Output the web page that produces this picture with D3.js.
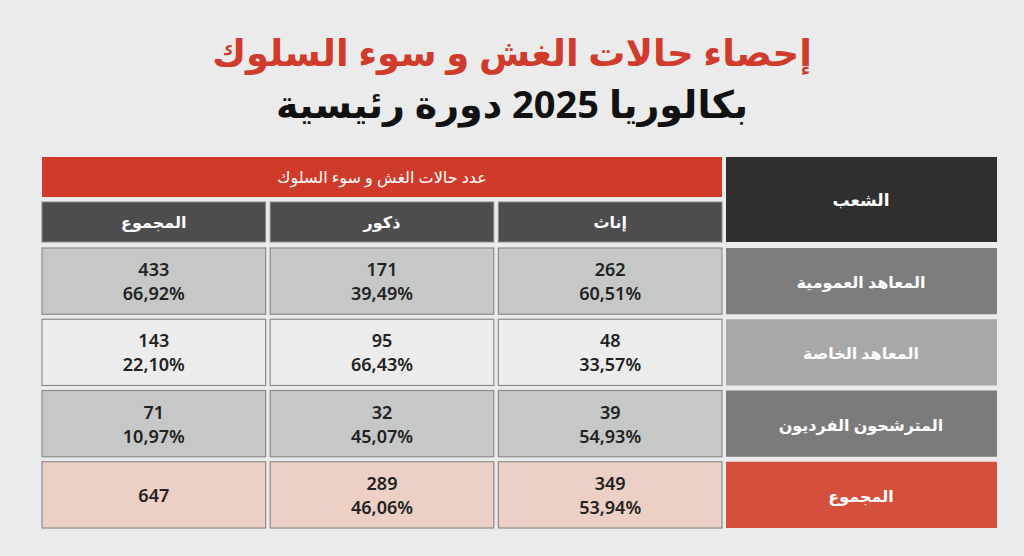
<!DOCTYPE html>
<html><head><meta charset="utf-8">
<script src="https://cdn.jsdelivr.net/npm/d3@7"></script>
<style>body{margin:0;background:#ebebeb;font-family:"Noto Sans","DejaVu Sans",sans-serif}</style>
</head><body>
<svg id="c" width="1024" height="556"></svg>
<script>
// data
var branches = ['المعاهد العمومية', 'المعاهد الخاصة', 'المترشحون الفرديون', 'المجموع'];
var columns = ['إناث', 'ذكور', 'المجموع'];
var females = [262, 48, 39, 349];
var femalesPct = ['60,51%', '33,57%', '54,93%', '53,94%'];
var males = [171, 95, 32, 289];
var malesPct = ['39,49%', '66,43%', '45,07%', '46,06%'];
var totals = [433, 143, 71, 647];
var totalsPct = ['66,92%', '22,10%', '10,97%', ''];

var svg = d3.select('#c');

svg.append('text').attr('x', 512).attr('y', 66).attr('text-anchor', 'middle')
  .attr('fill', '#d13b2b').attr('font-size', 37).attr('font-weight', 'bold')
  .text('إحصاء حالات الغش و سوء السلوك');
svg.append('text').attr('x', 512).attr('y', 118).attr('text-anchor', 'middle')
  .attr('fill', '#111').attr('font-size', 38).attr('font-weight', 'bold')
  .text('بكالوريا 2025 دورة رئيسية');

var y = d3.scaleBand().domain(d3.range(branches.length)).range([248, 528]).paddingInner(0.07);

// headers
svg.append('rect').attr('x', 726).attr('y', 157).attr('width', 271).attr('height', 85).attr('fill', '#2f2f2f');
svg.append('text').attr('x', 861).attr('y', 206).attr('text-anchor', 'middle').attr('fill', '#fff')
  .attr('font-size', 17).attr('font-weight', 'bold').text('الشعب');
svg.append('rect').attr('x', 42).attr('y', 157).attr('width', 680).attr('height', 40).attr('fill', '#cf3b2a');
svg.append('text').attr('x', 382).attr('y', 183).attr('text-anchor', 'middle').attr('fill', '#fff')
  .attr('font-size', 16).text('عدد حالات الغش و سوء السلوك');

var sub = d3.scaleBand().domain(columns).range([722, 42]).paddingInner(0.02);
svg.selectAll('.sub').data(columns).join('g').attr('class', 'sub').each(function(d) {
  var g = d3.select(this);
  g.append('rect').attr('x', sub(d)).attr('y', 202).attr('width', sub.bandwidth()).attr('height', 40)
    .attr('fill', '#4d4d4d').attr('stroke', '#8a8a8a');
  g.append('text').attr('x', sub(d) + sub.bandwidth() / 2).attr('y', 228).attr('text-anchor', 'middle')
    .attr('fill', '#fff').attr('font-size', 16).attr('font-weight', 'bold').text(d);
});

var labelFill = ['#7d7d7d', '#a8a8a8', '#7b7b7b', '#d5503c'];
var cellFill = ['#c6c7c7', '#ececec', '#c6c7c7', '#ecd0c5'];

var rows = svg.selectAll('.row').data(branches).join('g').attr('class', 'row');
rows.each(function(b, i) {
  var g = d3.select(this), ry = y(i), h = y.bandwidth();
  g.append('rect').attr('x', 726).attr('y', ry).attr('width', 271).attr('height', h).attr('fill', labelFill[i]);
  g.append('text').attr('x', 861).attr('y', ry + h / 2 + 7).attr('text-anchor', 'middle')
    .attr('fill', '#fff').attr('font-size', 16).attr('font-weight', 'bold').text(b);
  var vals = [[females[i], femalesPct[i]], [males[i], malesPct[i]], [totals[i], totalsPct[i]]];
  columns.forEach(function(c, j) {
    var cx = sub(c);
    g.append('rect').attr('x', cx).attr('y', ry).attr('width', sub.bandwidth()).attr('height', h)
      .attr('fill', cellFill[i]).attr('stroke', '#8c8c8c').attr('stroke-width', 1.2);
    var mid = cx + sub.bandwidth() / 2;
    var t = function(yy, s) {
      g.append('text').attr('x', mid).attr('y', yy).attr('text-anchor', 'middle')
        .attr('fill', '#222').attr('font-size', 18).attr('font-weight', 600).text(s);
    };
    if (vals[j][1]) { t(ry + h / 2 - 5, vals[j][0]); t(ry + h / 2 + 19, vals[j][1]); }
    else t(ry + h / 2 + 7, vals[j][0]);
  });
});
</script>
</body></html>
